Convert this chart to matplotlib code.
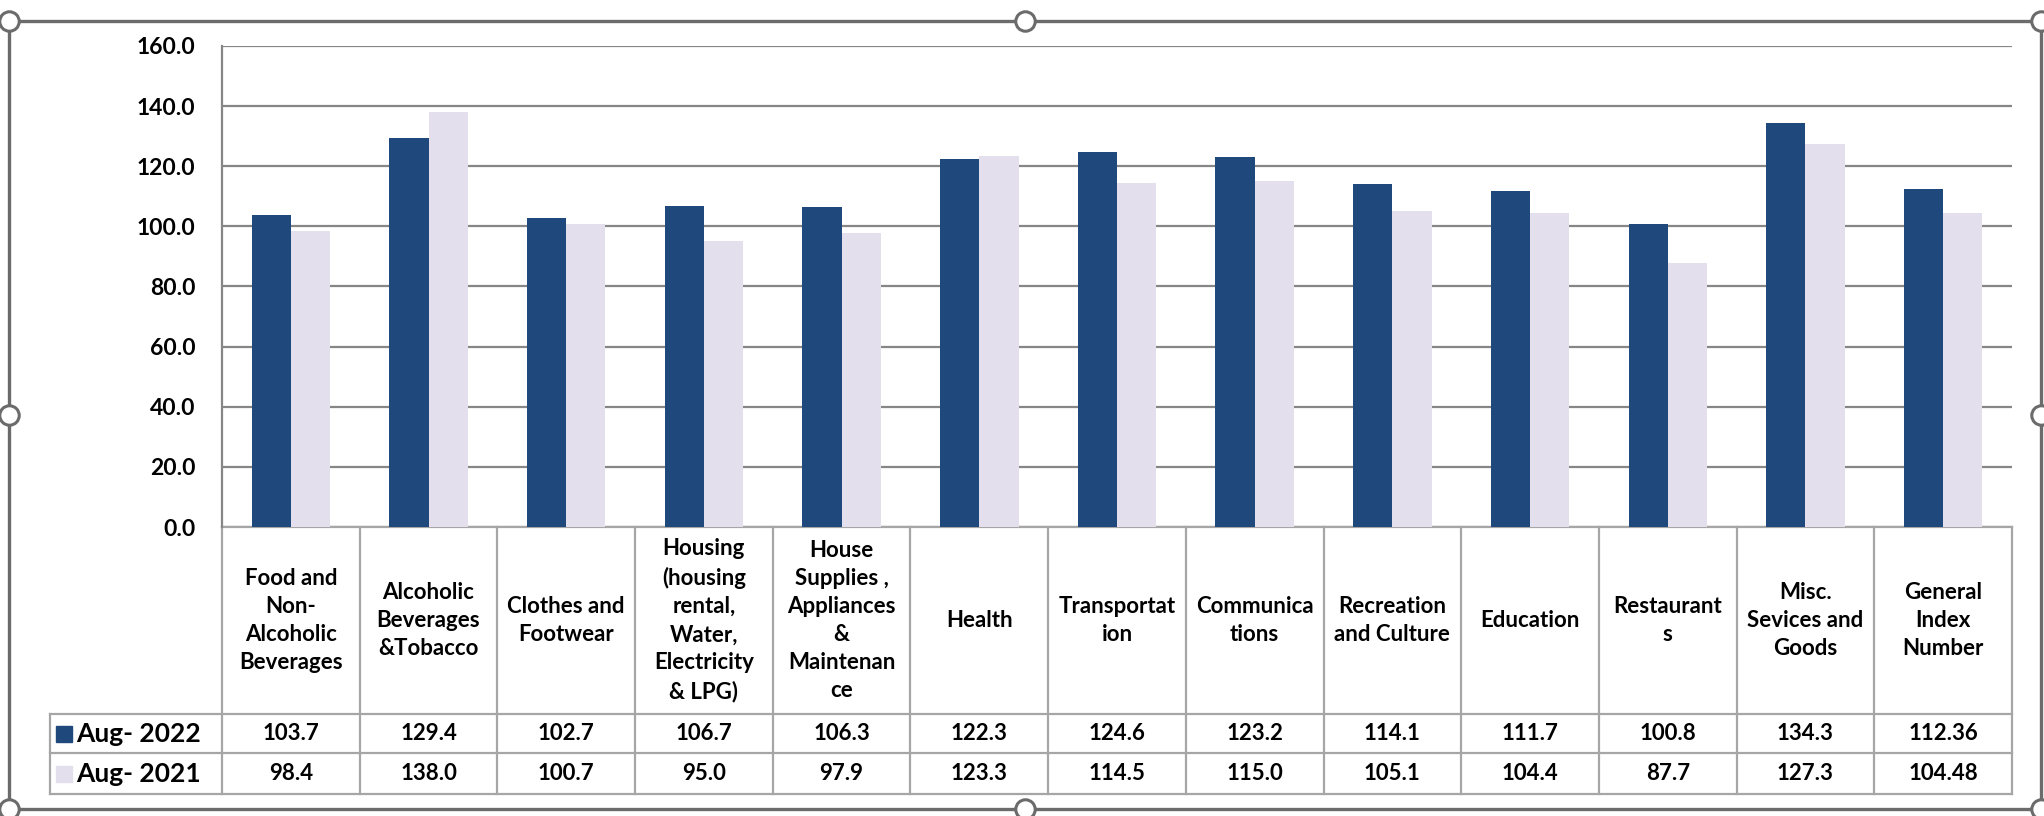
import matplotlib

matplotlib.use("Agg")
import matplotlib.pyplot as plt
import matplotlib.transforms as mtransforms
import numpy as np

# ---- data -------------------------------------------------------------------
categories = [
    "Food and\nNon-\nAlcoholic\nBeverages",
    "Alcoholic\nBeverages\n&Tobacco",
    "Clothes and\nFootwear",
    "Housing\n(housing\nrental,\nWater,\nElectricity\n& LPG)",
    "House\nSupplies ,\nAppliances\n&\nMaintenan\nce",
    "Health",
    "Transportat\nion",
    "Communica\ntions",
    "Recreation\nand Culture",
    "Education",
    "Restaurant\ns",
    "Misc.\nSevices and\nGoods",
    "General\nIndex\nNumber",
]
aug_2022 = [103.7, 129.4, 102.7, 106.7, 106.3, 122.3, 124.6, 123.2, 114.1, 111.7, 100.8, 134.3, 112.36]
aug_2021 = [98.4, 138.0, 100.7, 95.0, 97.9, 123.3, 114.5, 115.0, 105.1, 104.4, 87.7, 127.3, 104.48]
series_names = ["Aug- 2022", "Aug- 2021"]
yticks = [0, 20, 40, 60, 80, 100, 120, 140, 160]

# ---- style ------------------------------------------------------------------
NAVY = "#1f497d"
LILAC = "#e4dfec"
GRID = "#868686"
TABLE = "#a6a6a6"
FRAME = "#6b6b6b"
FONT = "Lato"
FS = 16

plt.rcParams["font.family"] = FONT
plt.rcParams["font.weight"] = "bold"

W, H = 2044, 816
fig = plt.figure(figsize=(W / 100, H / 100), dpi=100)
fig.patch.set_facecolor("white")

# plot area in pixel terms: left 222, right 2012, top 46, bottom 527
ax = fig.add_axes([222 / W, 1 - 527 / H, (2012 - 222) / W, (527 - 46) / H])

x = np.arange(len(categories))
w = 0.285
ax.bar(x - w / 2, aug_2022, width=w, color=NAVY, zorder=3)
ax.bar(x + w / 2, aug_2021, width=w, color=LILAC, zorder=3)

ax.set_xlim(-0.5, len(categories) - 0.5)
ax.set_ylim(0, 160)
ax.set_yticks(yticks)
ax.set_yticklabels([f"{v:.1f}" for v in yticks], fontsize=FS + 0.5, fontweight="bold")
ax.set_xticks([])
ax.tick_params(axis="y", length=0, pad=19)
ax.grid(axis="y", color=GRID, linewidth=1.6, zorder=0)
for s in ("top", "right", "bottom"):
    ax.spines[s].set_visible(False)
ax.spines["left"].set_color(GRID)
ax.spines["left"].set_linewidth(1.6)

# ---- data table below the axis ---------------------------------------------
trans = mtransforms.blended_transform_factory(ax.transData, ax.transAxes)
y_cat = -(714 - 527) / 481
y_mid = -(753 - 527) / 481
y_bot = -(794 - 527) / 481
x_leg = -0.5 - (222 - 50) / ((2012 - 222) / len(categories))


def tline(xs, ys):
    ax.plot(xs, ys, color=TABLE, linewidth=1.6, transform=trans, clip_on=False, zorder=2)


for b in np.arange(len(categories) + 1) - 0.5:
    tline([b, b], [0, y_bot])
tline([-0.5, len(categories) - 0.5], [0, 0])
for yy in (y_cat, y_mid, y_bot):
    tline([x_leg, len(categories) - 0.5], [yy, yy])
tline([x_leg, x_leg], [y_cat, y_bot])


def fmt(v):
    return f"{v:.2f}" if round(v, 1) != v else f"{v:.1f}"


for i, lab in enumerate(categories):
    ax.text(i, y_cat / 2, lab, transform=trans, ha="center", va="center",
            fontsize=FS, fontweight="bold", linespacing=1.42, clip_on=False)
    ax.text(i, (y_cat + y_mid) / 2, fmt(aug_2022[i]), transform=trans, ha="center",
            va="center", fontsize=FS, fontweight="bold", clip_on=False)
    ax.text(i, (y_mid + y_bot) / 2, fmt(aug_2021[i]), transform=trans, ha="center",
            va="center", fontsize=FS, fontweight="bold", clip_on=False)

# legend keys in the first column
for (ya, yb), name, col in zip([(y_cat, y_mid), (y_mid, y_bot)], series_names, [NAVY, LILAC]):
    yc = (ya + yb) / 2
    ax.plot([x_leg + 0.1], [yc], marker="s", markersize=11, color=col,
            transform=trans, clip_on=False, linestyle="none")
    ax.text(x_leg + 0.19, yc, name, transform=trans, ha="left", va="center",
            fontsize=FS + 3, fontweight="bold", clip_on=False)

# ---- selection frame with handles (screenshot chrome) ------------------------
over = fig.add_axes([0, 0, 1, 1], zorder=5)
over.set_xlim(0, W)
over.set_ylim(H, 0)
over.axis("off")
over.patch.set_alpha(0)
L, R, T, B = 9, 2041, 21, 809
over.plot([L, R, R, L, L], [T, T, B, B, T], color=FRAME, linewidth=2.4,
          solid_joinstyle="miter")
hx = [L, (L + R) / 2, R, L, R, L, (L + R) / 2, R]
hy = [T, T, T, (T + B) / 2, (T + B) / 2, B, B, B]
over.plot(hx, hy, linestyle="none", marker="o", markersize=14,
          markerfacecolor="white", markeredgecolor=FRAME, markeredgewidth=2.2,
          clip_on=False)

fig.savefig("out.png", dpi=100)
